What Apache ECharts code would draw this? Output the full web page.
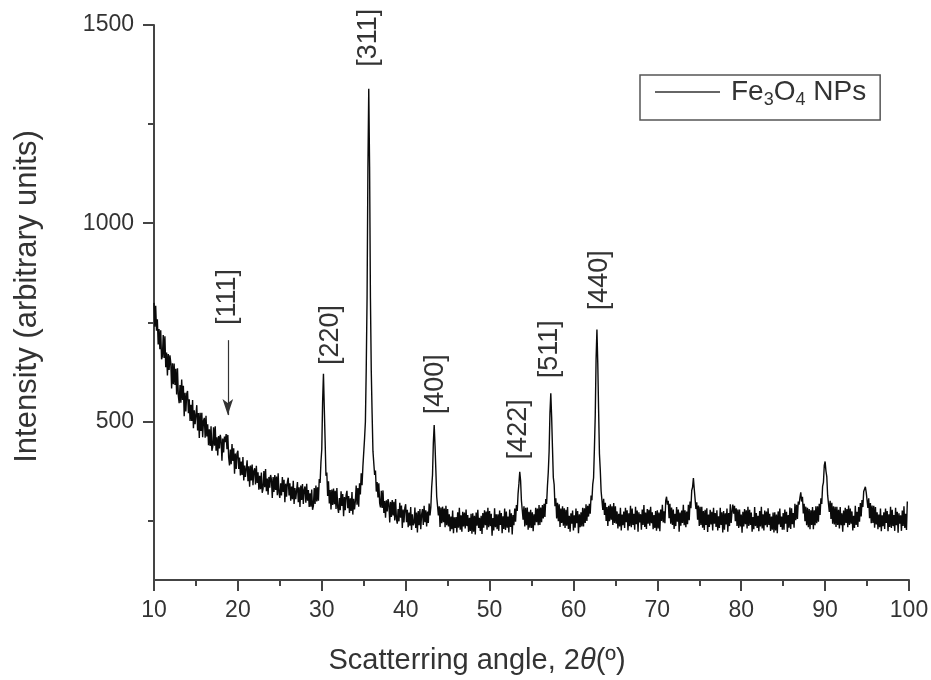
<!DOCTYPE html>
<html>
<head>
<meta charset="utf-8">
<title>XRD pattern of Fe3O4 nanoparticles</title>
<script src="https://cdn.jsdelivr.net/npm/echarts@6/dist/echarts.min.js"></script>
<style>
  html, body { margin: 0; padding: 0; background: #ffffff; }
  #chart { width: 931px; height: 680px; }
</style>
</head>
<body>
<div id="chart"></div>
<script>
// Step-scan settings of the diffractogram (2θ in degrees)
const angleStart = 10.0;
const angleStep = 0.1;

// Measured intensity, one row per degree (x.0 … x.9)
const intensity = [
  799, 739, 792, 729, 758, 694, 733, 682, 730, 657,
  664, 718, 660, 715, 637, 674, 616, 670, 630, 667,
  648, 583, 647, 594, 646, 592, 633, 568, 634, 565,
  546, 592, 547, 606, 554, 590, 513, 572, 525, 570,
  577, 521, 556, 501, 542, 501, 554, 483, 528, 493,
  497, 541, 477, 521, 458, 522, 476, 522, 460, 502,
  509, 459, 514, 462, 493, 440, 480, 438, 488, 426,
  436, 485, 439, 488, 426, 460, 414, 463, 432, 466,
  453, 401, 457, 422, 462, 448, 468, 430, 466, 409,
  389, 429, 392, 443, 400, 432, 368, 419, 380, 420,
  426, 380, 409, 364, 399, 365, 410, 351, 389, 360,
  364, 402, 349, 387, 335, 389, 351, 391, 339, 375,
  382, 341, 388, 345, 372, 328, 363, 329, 371, 320,
  330, 375, 334, 380, 324, 356, 315, 360, 333, 365,
  354, 307, 360, 322, 365, 327, 361, 314, 369, 319,
  307, 344, 313, 360, 322, 353, 296, 343, 310, 347,
  358, 313, 344, 300, 336, 304, 350, 292, 332, 304,
  309, 347, 296, 334, 284, 338, 302, 342, 292, 328,
  336, 295, 343, 300, 327, 284, 319, 285, 328, 277,
  287, 332, 292, 338, 298, 334, 300, 355, 345, 397,
  430, 550, 620, 533, 450, 363, 371, 312, 349, 293,
  327, 278, 328, 289, 331, 291, 325, 279, 332, 283,
  269, 307, 276, 324, 287, 317, 261, 309, 276, 314,
  325, 281, 312, 269, 306, 274, 322, 265, 305, 278,
  298, 338, 290, 332, 285, 344, 316, 369, 339, 386,
  388, 457, 499, 633, 813, 1140, 1339, 1142, 811, 627,
  520, 425, 425, 365, 376, 323, 347, 308, 344, 294,
  283, 325, 282, 326, 269, 299, 257, 301, 273, 304,
  292, 245, 297, 259, 302, 263, 297, 250, 304, 254,
  242, 279, 248, 295, 257, 288, 231, 278, 245, 282,
  291, 246, 277, 233, 270, 237, 284, 226, 266, 238,
  244, 283, 231, 270, 220, 274, 238, 279, 228, 265,
  279, 239, 287, 246, 276, 235, 273, 244, 293, 263,
  284, 334, 365, 447, 491, 439, 376, 310, 310, 263,
  286, 234, 283, 243, 285, 246, 280, 233, 287, 238,
  279, 235, 266, 223, 260, 228, 275, 218, 258, 231,
  259, 220, 271, 232, 282, 227, 263, 222, 272, 235,
  270, 230, 278, 236, 264, 221, 257, 224, 267, 217,
  268, 222, 262, 215, 270, 237, 277, 231, 257, 224,
  262, 216, 269, 232, 276, 238, 273, 227, 282, 233,
  274, 236, 267, 212, 256, 225, 281, 233, 266, 228,
  266, 224, 275, 239, 269, 218, 261, 229, 280, 226,
  273, 232, 260, 220, 278, 234, 268, 215, 264, 238,
  280, 247, 289, 274, 318, 343, 373, 351, 300, 300,
  252, 286, 235, 282, 238, 283, 227, 272, 232, 277,
  231, 271, 223, 266, 238, 282, 246, 280, 238, 289,
  239, 283, 246, 289, 255, 292, 259, 304, 292, 337,
  372, 425, 521, 571, 512, 434, 359, 341, 286, 306,
  255, 295, 248, 291, 234, 280, 244, 286, 237, 281,
  231, 277, 237, 284, 229, 262, 222, 268, 242, 275,
  225, 263, 232, 280, 243, 274, 218, 266, 233, 271,
  235, 282, 235, 281, 244, 291, 249, 287, 260, 292,
  267, 313, 301, 341, 358, 432, 516, 658, 732, 647,
  528, 418, 377, 324, 323, 277, 305, 264, 295, 249,
  284, 236, 287, 248, 291, 252, 286, 239, 294, 244,
  286, 242, 273, 230, 267, 235, 282, 225, 265, 238,
  273, 231, 282, 246, 276, 225, 268, 236, 287, 233,
  280, 239, 267, 227, 285, 241, 275, 222, 271, 245,
  266, 227, 278, 239, 289, 234, 270, 229, 279, 242,
  277, 237, 285, 243, 271, 228, 264, 231, 274, 224,
  276, 230, 270, 223, 278, 249, 290, 245, 273, 243,
  300, 310, 290, 300, 256, 292, 242, 283, 239, 278,
  229, 267, 236, 284, 247, 278, 222, 270, 237, 275,
  244, 290, 238, 276, 233, 273, 241, 290, 251, 298,
  281, 326, 334, 357, 330, 330, 279, 296, 252, 288,
  236, 285, 239, 285, 232, 274, 226, 277, 239, 281,
  221, 265, 234, 277, 240, 272, 225, 282, 242, 269,
  234, 276, 225, 261, 231, 282, 239, 271, 220, 274,
  227, 268, 240, 280, 222, 269, 236, 291, 244, 273,
  290, 267, 287, 248, 281, 236, 278, 231, 278, 235,
  265, 219, 272, 235, 279, 241, 276, 230, 285, 236,
  277, 239, 270, 222, 259, 228, 284, 236, 269, 231,
  262, 223, 274, 235, 285, 230, 266, 225, 275, 238,
  273, 233, 281, 239, 267, 224, 260, 227, 270, 220,
  271, 225, 265, 218, 273, 240, 280, 234, 260, 227,
  269, 227, 278, 242, 272, 221, 264, 232, 283, 229,
  281, 241, 269, 232, 292, 251, 290, 254, 298, 290,
  308, 321, 298, 310, 268, 292, 248, 285, 238, 282,
  233, 279, 228, 276, 239, 284, 228, 276, 238, 286,
  243, 286, 247, 292, 264, 306, 292, 336, 346, 389,
  399, 375, 361, 314, 316, 272, 300, 254, 295, 242,
  286, 240, 285, 234, 285, 239, 277, 230, 284, 238,
  268, 222, 275, 238, 282, 244, 279, 233, 288, 239,
  280, 242, 273, 225, 262, 231, 287, 239, 272, 234,
  284, 247, 294, 260, 302, 284, 323, 325, 335, 321,
  325, 282, 306, 256, 294, 243, 288, 244, 287, 232,
  284, 240, 271, 228, 265, 233, 280, 223, 263, 236,
  271, 229, 280, 244, 274, 223, 266, 234, 285, 231,
  277, 236, 264, 224, 282, 238, 272, 219, 268, 242,
  263, 224, 275, 236, 286, 231, 267, 226, 298
];

// Miller-index annotations (label text, 2θ, intensity at label centre)
const peakLabels = ['[111]', '[220]', '[311]', '[400]', '[422]', '[511]', '[440]'];
const peakLabelAngles = [18.8, 31.1, 35.6, 43.6, 53.5, 57.2, 63.1];
const peakLabelLevels = [814, 718, 1468, 594, 480, 682, 856];

// Arrow pointing at the weak (111) reflection
const arrowAngle = 18.8;
const arrowFrom = 705;
const arrowTo = 516;

// Axis ticks
const xTickInterval = 10;
const yMajorTicks = [500, 1000, 1500];
const yMinorTicks = [250, 750, 1250];

const seriesName = 'Fe3O4 NPs';

const FONT = '"Liberation Sans", Arial, Helvetica, sans-serif';
const INK = '#333333';
const AXIS = '#444444';

const points = intensity.map((v, i) => [+(angleStart + i * angleStep).toFixed(1), v]);

const chart = echarts.init(document.getElementById('chart'), null, { renderer: 'canvas' });

chart.setOption({
  backgroundColor: '#ffffff',
  animation: false,
  textStyle: { fontFamily: FONT },
  grid: { left: 154, right: 22, top: 25, bottom: 100, containLabel: false, outerBoundsMode: 'none' },
  legend: {
    data: [{ name: seriesName, icon: 'rect' }],
    left: 640,
    top: 75,
    padding: [3, 14, 11, 15],
    itemWidth: 65,
    itemHeight: 1.5,
    borderColor: '#555555',
    borderWidth: 1.5,
    selectedMode: false,
    itemStyle: { color: '#333333', borderWidth: 0 },
    formatter: () => '{g|}{t|Fe}{s|3}{t|O}{s|4}{t| NPs}',
    textStyle: {
      rich: {
        g: { width: 6 },
        t: { fontSize: 28, lineHeight: 34, color: INK, fontFamily: FONT },
        s: { fontSize: 18, lineHeight: 18, verticalAlign: 'bottom', color: INK, fontFamily: FONT }
      }
    }
  },
  xAxis: {
    type: 'value',
    min: 10,
    max: 100,
    interval: xTickInterval,
    axisLine: { show: true, onZero: false, lineStyle: { color: AXIS, width: 2 } },
    axisTick: { show: true, inside: false, length: 11, lineStyle: { color: AXIS, width: 2 } },
    minorTick: { show: true, splitNumber: 2, length: 6, lineStyle: { color: AXIS, width: 2 } },
    splitLine: { show: false },
    minorSplitLine: { show: false },
    axisLabel: { fontSize: 23, color: INK, margin: 19, fontFamily: FONT },
    name: '{n|Scatterring angle, 2}{i|θ}{n|(º)}',
    nameLocation: 'middle',
    nameGap: 66,
    nameTextStyle: {
      padding: [0, 109, 0, 0],
      rich: {
        n: { fontSize: 29, color: INK, fontFamily: FONT },
        i: { fontSize: 29, color: INK, fontStyle: 'italic', fontFamily: FONT }
      }
    }
  },
  yAxis: [
    {
      type: 'value',
      min: 100,
      max: 1500,
      position: 'left',
      axisLine: { show: true, onZero: false, lineStyle: { color: AXIS, width: 2 } },
      axisTick: { show: true, inside: false, length: 11, customValues: yMajorTicks, lineStyle: { color: AXIS, width: 2 } },
      axisLabel: { customValues: yMajorTicks, fontSize: 23, color: INK, margin: 20, fontFamily: FONT, formatter: v => String(v) },
      splitLine: { show: false },
      name: 'Intensity (arbitrary units)',
      nameLocation: 'middle',
      nameRotate: 90,
      nameGap: 111,
      nameTextStyle: { fontSize: 31, color: INK, fontFamily: FONT, padding: [0, 0, 0, 12] }
    },
    {
      // minor ticks only
      type: 'value',
      min: 100,
      max: 1500,
      position: 'left',
      axisLine: { show: false },
      axisTick: { show: true, inside: false, length: 6, customValues: yMinorTicks, lineStyle: { color: AXIS, width: 2 } },
      axisLabel: { show: false },
      splitLine: { show: false }
    }
  ],
  series: [
    {
      name: seriesName,
      type: 'line',
      data: points,
      symbol: 'none',
      showSymbol: false,
      sampling: 'none',
      smooth: false,
      color: '#0a0a0a',
      lineStyle: { color: '#0a0a0a', width: 1.4 },
      emphasis: { disabled: true },
      markPoint: {
        silent: true,
        symbol: 'rect',
        symbolSize: 1,
        itemStyle: { color: 'rgba(0,0,0,0)' },
        label: {
          show: true,
          position: 'inside',
          rotate: 90,
          fontSize: 27,
          color: INK,
          fontFamily: FONT,
          formatter: p => p.name
        },
        data: peakLabels.map((t, i) => ({ name: t, coord: [peakLabelAngles[i], peakLabelLevels[i]] }))
      },
      markLine: {
        silent: true,
        symbol: ['none', 'arrow'],
        symbolSize: [8, 16],
        label: { show: false },
        lineStyle: { color: '#333333', width: 1.2, type: 'solid' },
        emphasis: { disabled: true },
        data: [[{ coord: [arrowAngle, arrowFrom] }, { coord: [arrowAngle, arrowTo] }]]
      }
    }
  ]
});
</script>
</body>
</html>
